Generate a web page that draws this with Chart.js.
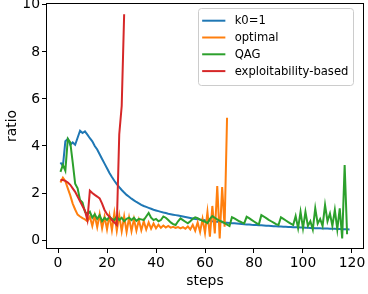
<!DOCTYPE html>
<html>
<head>
<meta charset="utf-8">
<script src="https://cdn.jsdelivr.net/npm/chart.js@4.4.0/dist/chart.umd.min.js"></script>
<style>
  html, body { margin: 0; padding: 0; background: #fff; }
  #wrap { width: 368px; height: 294px; }
</style>
</head>
<body>
<div id="wrap"><canvas id="ratioChart" width="368" height="294"></canvas></div>
<script>
// series (x = step 1, 2, 3, ...)
const seriesNames = ['k0=1', 'optimal', 'QAG', 'exploitability-based'];
const seriesColors = ['#1f77b4', '#ff7f0e', '#2ca02c', '#d62728'];

const k0Values = [
  3.3, 3.15, 4.2, 4.3, 4.05, 4.15, 4.05, 4.35, 4.65, 4.55,
  4.62, 4.48, 4.33, 4.2, 4.0, 3.85, 3.65, 3.45, 3.25, 3.05,
  2.85, 2.68, 2.52, 2.38, 2.25, 2.13, 2.02, 1.92, 1.84, 1.76,
  1.69, 1.62, 1.56, 1.5, 1.45, 1.41, 1.37, 1.33, 1.29, 1.26,
  1.23, 1.2, 1.17, 1.15, 1.12, 1.1, 1.08, 1.06, 1.04, 1.02,
  1.0, 0.98, 0.96, 0.94, 0.92, 0.9, 0.89, 0.87, 0.86, 0.84,
  0.83, 0.82, 0.8, 0.79, 0.78, 0.77, 0.76, 0.75, 0.74, 0.73,
  0.72, 0.71, 0.7, 0.69, 0.68, 0.67, 0.665, 0.66, 0.65, 0.645,
  0.64, 0.63, 0.625, 0.62, 0.61, 0.605, 0.6, 0.59, 0.585, 0.58,
  0.575, 0.57, 0.565, 0.56, 0.555, 0.55, 0.545, 0.54, 0.535, 0.53,
  0.525, 0.52, 0.515, 0.51, 0.505, 0.5, 0.497, 0.494, 0.49, 0.487,
  0.483, 0.48, 0.476, 0.472, 0.468, 0.464, 0.46, 0.456, 0.452
];

const optimalValues = [
  2.45, 2.65, 2.5, 2.2, 1.9, 1.55, 1.3, 1.08, 1.0, 0.93, 0.88, 0.8,
  1.0, 0.6, 1.05, 0.55, 1.1, 0.5, 1.0, 0.45,
  1.05, 0.42, 1.15, 0.4, 1.05, 0.38, 1.0, 0.35, 0.95, 0.38,
  0.9, 0.4, 0.85, 0.42, 0.8, 0.45, 0.75, 0.48, 0.7, 0.5,
  0.65, 0.52, 0.62, 0.53, 0.6, 0.53, 0.56, 0.52, 0.55, 0.5,
  0.55, 0.48, 0.58, 0.45, 0.65, 0.4, 0.75, 0.35, 0.9, 0.3,
  1.2, 0.14, 1.45, 0.28, 2.3, 0.07, 2.25, 0.57, 5.2
];

const qagValues = [
  2.9, 3.2, 2.95, 4.3, 4.15, 3.3, 2.4, 2.2, 1.7, 1.6,
  1.2, 1.1, 1.2, 0.95, 1.1, 0.9, 1.05, 0.8, 0.95, 0.85,
  1.0, 0.9, 0.85, 1.0, 0.85, 0.95, 0.8, 0.9, 0.95, 0.85,
  0.95, 0.82, 0.9, 0.88, 0.85, 1.0, 1.15, 0.95, 0.85, 0.9,
  0.8, 0.85, 1.0, 0.95, 0.85, 0.75, 0.68, 0.64, 0.8, 0.92,
  0.85, 0.78, 0.71, 0.8, 0.9, 0.97, 0.93, 0.87, 0.82, 0.78,
  0.72, 0.9, 1.02, 0.95, 0.88, 0.82, 0.78, 0.72, 0.66, 0.6,
  0.97, 0.92, 0.86, 0.8, 0.75, 0.71, 0.99, 0.93, 0.86, 0.79,
  0.72, 0.67, 1.06, 1.0, 0.93, 0.86, 0.8, 0.74, 0.68, 0.64,
  0.97, 0.9, 0.83, 0.76, 0.7, 0.64, 1.02, 0.5, 1.2, 0.5,
  1.2, 0.6, 0.8, 0.45, 1.35, 0.7, 0.9, 0.6, 1.49, 0.8,
  1.13, 0.6, 1.28, 0.45, 1.35, 0.07, 3.19, 0.25
];

const exploitValues = [
  2.55, 2.55, 2.52, 2.45, 2.35, 2.2, 2.05, 1.85, 1.65, 1.45,
  1.25, 0.85, 2.1, 2.0, 1.92, 1.85, 1.77, 1.55, 1.28, 1.1,
  0.99, 0.85, 0.75, 0.64, 4.5, 5.7, 9.6
];

const xTicks = [0, 20, 40, 60, 80, 100, 120];
const yTicks = [0, 2, 4, 6, 8, 10];

const FONT = 'DejaVu Sans';
const FS = 13.9;
const LEGEND_FS = 11.6;

function toPoints(values) {
  return values.map(function(v, i) { return { x: i + 1, y: v }; });
}

// matplotlib-style box round the axes + legend in the upper right
const frameAndLegend = {
  id: 'frameAndLegend',
  afterDatasetsDraw(chart) {
    const ctx = chart.ctx;
    const a = chart.chartArea;
    ctx.save();

    // axes frame
    ctx.strokeStyle = '#000';
    ctx.lineWidth = 1;
    ctx.strokeRect(Math.round(a.left) + 0.5, Math.round(a.top) + 0.5,
      Math.round(a.right - a.left) - 1, Math.round(a.bottom - a.top) - 1);

    // legend
    ctx.font = LEGEND_FS + 'px "' + FONT + '"';
    let maxW = 0;
    seriesNames.forEach(function(n) { maxW = Math.max(maxW, ctx.measureText(n).width); });
    const pad = 4.6, handle = 23.2, gap = 9.3, rowH = 16.8;
    const w = pad + handle + gap + maxW + pad;
    const right = a.right - 11;
    const left = right - w;
    const top = 8;
    const h = 76.5;

    ctx.beginPath();
    ctx.roundRect(Math.round(left) + 0.5, Math.round(top) + 0.5, Math.round(w), Math.round(h), 3);
    ctx.fillStyle = 'rgba(255,255,255,0.8)';
    ctx.fill();
    ctx.strokeStyle = '#cccccc';
    ctx.lineWidth = 1;
    ctx.stroke();

    ctx.textBaseline = 'middle';
    ctx.textAlign = 'left';
    seriesNames.forEach(function(n, i) {
      const y = top + 12.7 + i * rowH;
      ctx.strokeStyle = seriesColors[i];
      ctx.lineWidth = 2;
      ctx.beginPath();
      ctx.moveTo(left + pad, y);
      ctx.lineTo(left + pad + handle, y);
      ctx.stroke();
      ctx.fillStyle = '#000';
      ctx.fillText(n, left + pad + handle + gap, y + 0.5);
    });
    ctx.restore();
  }
};

function initRatioChart() {
  const canvas = document.getElementById('ratioChart');
  if (typeof Chart === 'undefined') {
    console.error('Chart.js is not loaded');
    return;
  }

  const allValues = [k0Values, optimalValues, qagValues, exploitValues];
  const datasets = allValues.map(function(values, i) {
    return {
      label: seriesNames[i],
      data: toPoints(values),
      borderColor: seriesColors[i],
      backgroundColor: seriesColors[i],
      borderWidth: 2,
      pointRadius: 0,
      tension: 0,
      fill: false,
      order: 3 - i
    };
  });

  new Chart(canvas, {
    type: 'line',
    data: { datasets: datasets },
    options: {
      responsive: false,
      devicePixelRatio: 1,
      animation: false,
      layout: { padding: { left: 0, right: 4, top: 3, bottom: 0 } },
      plugins: {
        legend: { display: false },
        tooltip: { enabled: false }
      },
      scales: {
        x: {
          type: 'linear',
          min: -4.9,
          max: 124.9,
          afterBuildTicks: function(scale) {
            scale.ticks = xTicks.map(function(v) { return { value: v }; });
          },
          afterFit: function(scale) {
            scale.height = 45;
            scale.paddingLeft = 0;
            scale.paddingRight = 0;
          },
          border: { display: false },
          grid: { drawOnChartArea: false, drawTicks: true, tickLength: 4, tickColor: '#000', tickWidth: 1 },
          ticks: {
            padding: 2,
            maxRotation: 0,
            color: '#000',
            font: { family: FONT, size: FS }
          },
          title: {
            display: true,
            text: 'steps',
            color: '#000',
            padding: { top: 0, bottom: 4 },
            font: { family: FONT, size: FS }
          }
        },
        y: {
          type: 'linear',
          min: -0.38,
          max: 10.08,
          afterBuildTicks: function(scale) {
            scale.ticks = yTicks.map(function(v) { return { value: v }; });
          },
          afterFit: function(scale) {
            scale.width = 46;
            scale.paddingTop = 0;
            scale.paddingBottom = 0;
          },
          border: { display: false },
          grid: { drawOnChartArea: false, drawTicks: true, tickLength: 4, tickColor: '#000', tickWidth: 1 },
          ticks: {
            padding: 2,
            color: '#000',
            font: { family: FONT, size: FS }
          },
          title: {
            display: true,
            text: 'ratio',
            color: '#000',
            padding: { top: 4, bottom: 0 },
            font: { family: FONT, size: FS }
          }
        }
      }
    },
    plugins: [frameAndLegend]
  });
}

if (document.readyState === 'loading') {
  document.addEventListener('DOMContentLoaded', initRatioChart);
} else {
  initRatioChart();
}
</script>
</body>
</html>
